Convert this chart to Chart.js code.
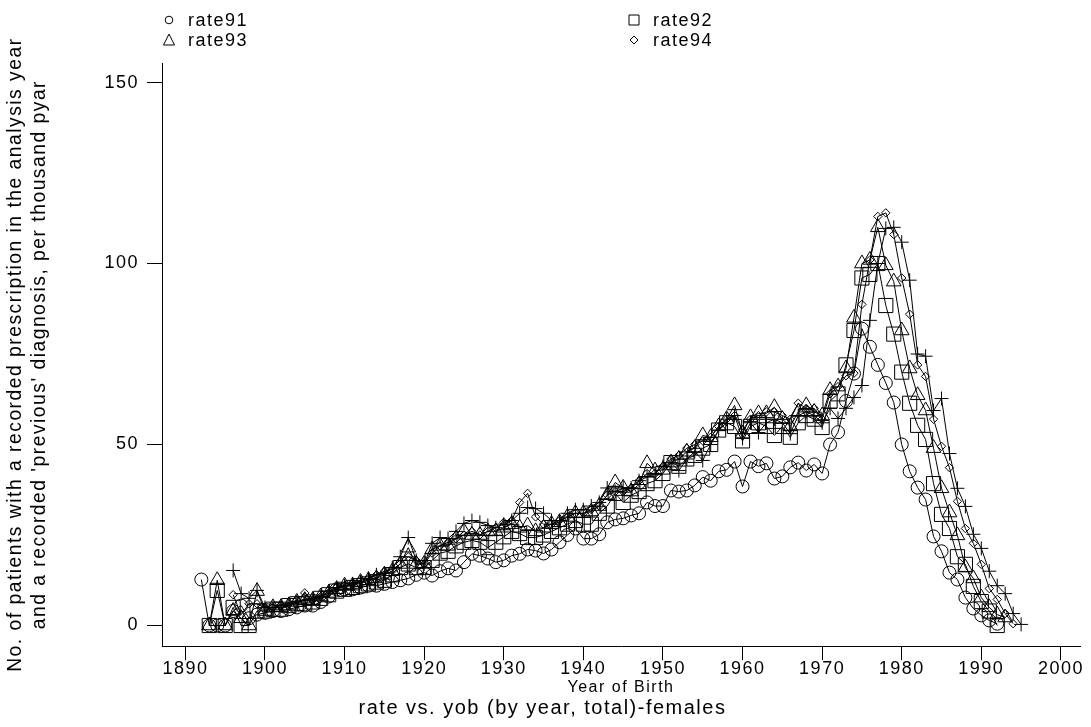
<!DOCTYPE html>
<html>
<head>
<meta charset="utf-8">
<script src="https://cdn.jsdelivr.net/npm/chart.js@4.4.1/dist/chart.umd.min.js"></script>
<style>
  html, body { margin: 0; padding: 0; background: #fff; }
  canvas { display: block; }
</style>
</head>
<body>
<canvas id="yobChart" width="1091" height="727"></canvas>
<script>
// rate vs. yob (by year, total) - females

// x ticks and y ticks
const xTickValues = [1890, 1900, 1910, 1920, 1930, 1940, 1950, 1960, 1970, 1980, 1990, 2000];
const yTickValues = [0, 50, 100, 150];

// each series starts at its own first year of birth, one value per year
const rate91Start = 1892;
const rate91 = [
    12.7, 0, 0, 0, 4, 5.5, 2, 3,
    3.5, 4, 4, 4.5, 5, 5.5, 5.5, 6.5, 8, 10,
    10, 10, 10.5, 11, 11, 11.5, 12, 12.5, 13, 14,
    14.6, 13.8, 15, 15.8, 15.2, 17.5, 19.8, 19.3, 18.5, 17.5,
    18, 19.3, 19.8, 21, 20.7, 19.9, 21, 23, 25, 26.8,
    24, 24, 25.2, 28.5, 29.3, 29.6, 30.4, 31, 34, 33,
    33, 37.3, 37, 37.3, 38.7, 41, 40, 42.6, 43, 45.3,
    38.4, 45.3, 44, 44.8, 40.6, 41.2, 43.7, 45, 42.8, 44.5,
    42, 50, 53.4, 62, 69.6, 82, 77, 72, 67, 61.6,
    50, 42.6, 38.1, 34.8, 24.6, 20.5, 14.6, 12.7, 7.7, 4.7,
    2.8, 1.4, 0.5
];

const rate92Start = 1893;
const rate92 = [
    0, 9.7, 0, 5, 0, 0, 4,
    4, 4.5, 4.5, 5.5, 6, 6, 6.5, 7.5, 8.5, 9.5,
    10, 10.5, 11, 11.5, 12, 12.5, 14, 16, 17, 16,
    16, 18, 20, 20.5, 22, 23, 23.5, 23, 21.5, 23,
    24.5, 26, 25.4, 24.3, 24.3, 25, 26, 27, 28, 29,
    28, 28, 31, 33, 36.5, 34, 36, 37, 39.2, 40,
    42, 45, 44, 46, 47, 49, 50, 54, 56, 55,
    51, 55, 56, 55, 52.5, 55, 52, 56, 58, 57,
    54.7, 62, 64, 72, 81.5, 96, 97, 100, 88.4, 80.5,
    70, 61.4, 55.3, 51.4, 39.2, 30.7, 26.8, 19, 16.9, 10.8,
    6.6, 4, 0
];

const rate93Start = 1893;
const rate93 = [
    0, 12.5, 0, 4, 2, 0, 9.5,
    4, 5, 5, 5.5, 6.5, 7, 7, 8, 9, 10,
    11, 11, 12, 12.5, 13, 14, 15, 17, 21.5, 17,
    17, 21, 22, 22, 24, 26, 25, 25, 26, 26,
    27, 28, 27, 27.6, 26, 27, 28, 28.5, 30, 31,
    31, 31.5, 33, 36, 39.5, 38, 37, 39, 44.8, 42.8,
    43, 45, 46, 48, 49, 52.5, 52, 55, 57, 60.8,
    53, 57.5, 58.6, 58.6, 60.3, 57, 55, 59, 60.8, 59,
    58, 65, 66, 71, 85, 100, 101, 110, 99.5, 95,
    81.5, 71, 63.6, 59.4, 49, 37.9, 31.2, 24.9, 16, 13,
    7.7, 5, 3, 2.2
];

const rate94Start = 1896;
const rate94 = [
    8.5, 3, 6, 6,
    5, 5, 5.5, 6, 7, 9, 7, 8, 9, 10.5,
    11, 11.5, 12.5, 13, 14, 15, 15.5, 17, 19, 18,
    17, 20, 22, 23, 24, 25, 26, 25, 26, 27,
    28.5, 29, 34, 36.5, 30, 28, 28, 29, 30, 31,
    31, 32, 33, 36, 37, 37, 38, 40, 42, 42,
    44, 46, 47, 49, 50, 51, 52, 55, 57, 58,
    54, 57, 58, 59, 59, 58, 57, 61.4, 60, 60,
    57, 64, 66, 69, 69.7, 88.7, 101, 113, 114, 108,
    96, 86, 72, 68.8, 57, 49.5, 43.6, 34.3, 26.8, 22.7,
    16.9, 10.2, 7.2, 3.3, 0.5
];

// fifth series (plus markers), not in the key
const rate95Start = 1896;
const rate95 = [
    15.2, 8.8, 7.5, 9.7,
    5, 5, 5.5, 6, 6.5, 7, 7.5, 8, 9.5, 10.5,
    11, 11.5, 12, 13, 14, 14.5, 16, 19, 24.3, 18,
    17, 22.7, 24.3, 24, 26, 28.2, 29, 28.5, 27.6, 27,
    28, 29, 31, 32.6, 32.3, 31, 29, 29, 31, 32,
    32, 33, 34, 38, 37, 38, 38, 40, 41, 42,
    44, 45, 42.8, 46, 48, 45.6, 50, 54, 57, 58,
    51.7, 56, 53.3, 56, 57, 56, 53, 58, 59, 58,
    56, 60, 57.2, 60, 63, 66.3, 84.3, 100, 109.7, 110,
    105.9, 95.4, 75, 74.4, 59.4, 62.7, 47.5, 37.9, 32.9, 25.2,
    21.3, 15, 11, 8.8, 3.3, 0.3
];

const FONT = '"Liberation Sans", Arial, Helvetica, sans-serif';
const SPACING = '1.5px';

function toPoints(start, values) {
    return values.map((v, i) => ({ x: start + i, y: v }));
}

const seriesDefs = [
    { label: 'rate91', start: rate91Start, values: rate91, style: 'circle', radius: 6.5 },
    { label: 'rate92', start: rate92Start, values: rate92, style: 'rect', radius: 10 },
    { label: 'rate93', start: rate93Start, values: rate93, style: 'triangle', radius: 8.5 },
    { label: 'rate94', start: rate94Start, values: rate94, style: 'rectRot', radius: 4.2 },
    { label: 'rate95', start: rate95Start, values: rate95, style: 'cross', radius: 7 }
];

// key at the top (two columns, like Stata)
const keyItems = [
    { label: 'rate91', style: 'circle', x: 169, y: 20 },
    { label: 'rate92', style: 'square', x: 634, y: 20 },
    { label: 'rate93', style: 'triangle', x: 169, y: 40 },
    { label: 'rate94', style: 'diamond', x: 634, y: 40 }
];

function drawKeySymbol(ctx, style, x, y) {
    ctx.beginPath();
    if (style === 'circle') {
        ctx.arc(x, y, 3.8, 0, Math.PI * 2);
    } else if (style === 'square') {
        ctx.rect(x - 5, y - 5, 10, 10);
    } else if (style === 'triangle') {
        ctx.moveTo(x, y - 6);
        ctx.lineTo(x + 5.5, y + 5);
        ctx.lineTo(x - 5.5, y + 5);
        ctx.closePath();
    } else if (style === 'diamond') {
        ctx.moveTo(x, y - 4);
        ctx.lineTo(x + 4, y);
        ctx.lineTo(x, y + 4);
        ctx.lineTo(x - 4, y);
        ctx.closePath();
    }
    ctx.stroke();
}

const spacingPlugin = {
    id: 'spacing',
    beforeDraw(chart) {
        chart.ctx.letterSpacing = SPACING;
    }
};

const keyPlugin = {
    id: 'stataKey',
    afterDraw(chart) {
        const ctx = chart.ctx;
        ctx.save();
        ctx.letterSpacing = SPACING;
        ctx.strokeStyle = '#000';
        ctx.lineWidth = 1;
        ctx.fillStyle = '#000';
        ctx.font = '18px ' + FONT;
        ctx.textBaseline = 'middle';
        ctx.textAlign = 'left';
        keyItems.forEach(item => {
            drawKeySymbol(ctx, item.style, item.x, item.y);
            ctx.fillText(item.label, item.x + 19, item.y + 1);
        });
        ctx.restore();
    }
};

Chart.defaults.font.family = FONT;
Chart.defaults.color = '#000';

const ctx = document.getElementById('yobChart');

window.yobChart = new Chart(ctx, {
    type: 'line',
    data: {
        datasets: seriesDefs.map(s => ({
            label: s.label,
            data: toPoints(s.start, s.values),
            borderColor: '#000',
            borderWidth: 1,
            tension: 0,
            fill: false,
            pointStyle: s.style,
            pointRadius: s.radius,
            pointBorderColor: '#000',
            pointBackgroundColor: 'rgba(0,0,0,0)',
            pointBorderWidth: 1
        }))
    },
    options: {
        responsive: false,
        animation: false,
        layout: {
            padding: { top: 63, right: 6, left: 0, bottom: 0 }
        },
        plugins: {
            legend: { display: false },
            tooltip: { enabled: false },
            title: {
                display: true,
                position: 'bottom',
                text: 'rate vs. yob (by year, total)-females',
                color: '#000',
                font: { size: 20, weight: 'normal', lineHeight: 1.2 },
                padding: { top: 0, bottom: 7 }
            }
        },
        scales: {
            x: {
                type: 'linear',
                min: 1887.06,
                max: 2002.4,
                afterBuildTicks: axis => {
                    axis.ticks = xTickValues.map(v => ({ value: v }));
                },
                afterFit: axis => {
                    axis.height = 49.8;
                    axis.paddingLeft = 0;
                    axis.paddingRight = 0;
                },
                ticks: {
                    color: '#000',
                    autoSkip: false,
                    maxRotation: 0,
                    padding: 0,
                    font: { size: 18, lineHeight: 1 },
                    callback: v => String(v)
                },
                grid: {
                    drawOnChartArea: false,
                    drawTicks: true,
                    tickLength: 14,
                    color: '#000',
                    lineWidth: 1
                },
                border: { display: true, color: '#000', width: 1 },
                title: {
                    display: true,
                    text: 'Year of Birth',
                    color: '#000',
                    font: { size: 16, lineHeight: 1 },
                    padding: { top: 0, bottom: 0 }
                }
            },
            y: {
                type: 'linear',
                min: -5.72,
                max: 155.4,
                afterBuildTicks: axis => {
                    axis.ticks = yTickValues.map(v => ({ value: v }));
                },
                afterFit: axis => {
                    axis.width = 162;
                    axis.paddingTop = 0;
                    axis.paddingBottom = 0;
                },
                ticks: {
                    color: '#000',
                    padding: 8,
                    font: { size: 18 },
                    callback: v => String(v)
                },
                grid: {
                    drawOnChartArea: false,
                    drawTicks: true,
                    tickLength: 15,
                    color: '#000',
                    lineWidth: 1
                },
                border: { display: true, color: '#000', width: 1 },
                title: {
                    display: true,
                    text: [
                        'No. of patients with a recorded prescription in the analysis year',
                        "and a recorded 'previous' diagnosis, per thousand pyar"
                    ],
                    color: '#000',
                    font: { size: 19.3, lineHeight: 24 / 19.3 },
                    padding: { top: 4, bottom: 0 }
                }
            }
        }
    },
    plugins: [spacingPlugin, keyPlugin]
});
</script>
</body>
</html>
